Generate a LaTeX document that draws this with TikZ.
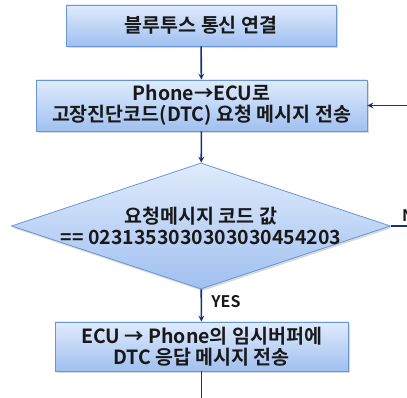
\documentclass[tikz,border=0pt]{standalone}
\usepackage{fontspec}
\newfontfamily\krfont{Noto Sans CJK KR}[BoldFont={Noto Sans CJK KR Bold}]
\usetikzlibrary{shapes.geometric,shadows}
\definecolor{boxtop}{RGB}{224,235,252}
\definecolor{boxbot}{RGB}{160,192,240}
\definecolor{boxline}{RGB}{104,150,212}
\definecolor{flow}{RGB}{22,52,112}
\definecolor{txt}{RGB}{25,25,25}
\begin{document}
\begin{tikzpicture}[x=1pt, y=1pt, >=stealth,
  box/.style={draw=boxline, line width=0.8pt, top color=boxtop, bottom color=boxbot,
    drop shadow={shadow xshift=1.5pt, shadow yshift=-2pt, opacity=.3},
    text=txt, font=\krfont\bfseries\fontsize{19.5}{21}\selectfont, align=center, inner sep=0pt},
  decision/.style={box, diamond, shape aspect=3, inner xsep=-25pt},
  lbl/.style={text=txt, font=\krfont\bfseries\fontsize{16}{18}\selectfont},
  flowline/.style={draw=flow, line width=1.6pt}]
\useasboundingbox (0,0) rectangle (407,398);
\node[box, minimum width=270pt, minimum height=41pt] (conn) at (201,372.5) {블루투스 통신 연결};
\node[box, minimum width=331pt, minimum height=51pt] (req) at (201.5,292.5) {Phone→ECU로\\고장진단코드(DTC) 요청 메시지 전송};
\node[decision, minimum width=379pt, minimum height=126pt] (chk) at (201,172) {요청메시지 코드 값\\== 0231353030303030454203};
\node[box, minimum width=293pt, minimum height=49pt] (resp) at (201.5,51.5) {ECU → Phone의 임시버퍼에\\DTC 응답 메시지 전송};
\coordinate (noout) at (407,172);
\coordinate (back) at (407,292.5);
\coordinate (down) at (201.5,0);
% connectors
\draw[flowline, ->] (conn) -- (req);
\draw[flowline, ->] (req) -- (chk);
\draw[flowline, ->] (chk) -- node[right, lbl, xshift=6pt, yshift=4pt] {YES} (resp);
\draw[flowline] (chk.east) -- (noout) node[pos=1, anchor=south west, lbl, xshift=-9pt] {NO};
\draw[flowline, ->] (back) -- (req.east);
\draw[flowline] (resp) -- (down);
\end{tikzpicture}
\end{document}
